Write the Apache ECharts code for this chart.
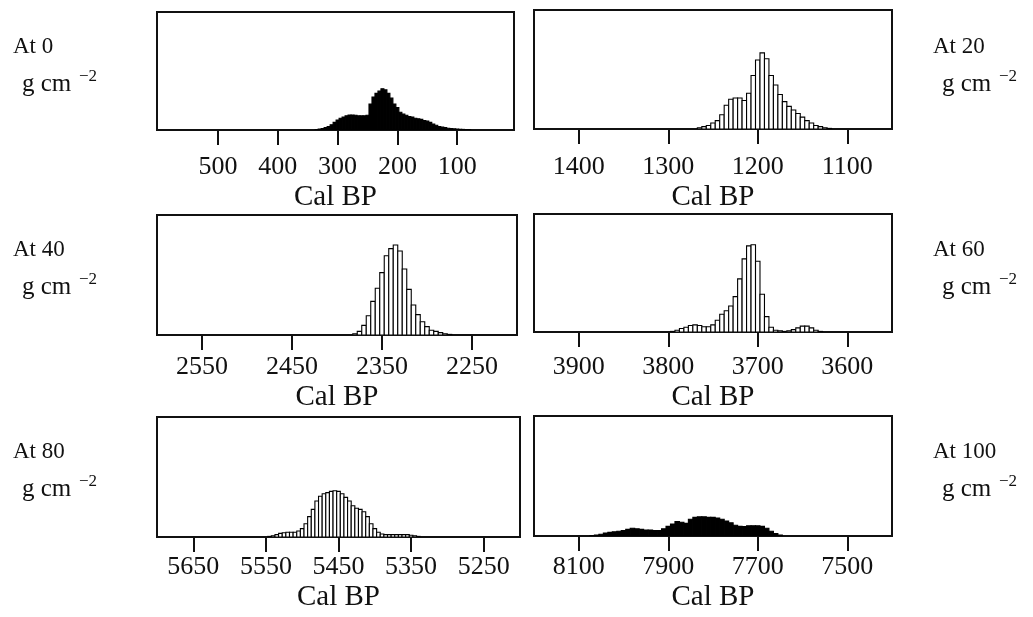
<!DOCTYPE html>
<html><head><meta charset="utf-8">
<script src="https://cdn.jsdelivr.net/npm/echarts@6/dist/echarts.min.js"></script>
<style>html,body{margin:0;padding:0;background:#fff}#c{width:1033px;height:617px}</style>
</head><body><div id="c"></div>
<script>
// ---- data ----
const depthLabels = ['At 0', 'At 20', 'At 40', 'At 60', 'At 80', 'At 100'];
const unitLabel = 'g cm';
const unitExp = '\u22122';
const axisTitle = 'Cal BP';

const ticks0 = [500, 400, 300, 200, 100];
const ticks20 = [1400, 1300, 1200, 1100];
const ticks40 = [2550, 2450, 2350, 2250];
const ticks60 = [3900, 3800, 3700, 3600];
const ticks80 = [5650, 5550, 5450, 5350, 5250];
const ticks100 = [8100, 7900, 7700, 7500];

const at0Years = [335,330,325,320,315,310,305,300,295,290,285,280,275,270,265,260,255,250,245,240,235,230,225,220,215,210,205,200,195,190,185,180,175,170,165,160,155,150,145,140,135,130,125,120,115,110,105,100,95,90,85,80];
const at0Prob  = [.004,.008,.012,.02,.03,.045,.065,.085,.10,.11,.12,.127,.127,.125,.12,.12,.12,.125,.22,.28,.31,.33,.35,.34,.31,.27,.22,.19,.15,.135,.125,.115,.11,.10,.095,.09,.08,.075,.065,.05,.04,.03,.025,.02,.015,.012,.01,.008,.006,.005,.004,.003];

const at20Years = [1265,1260,1255,1250,1245,1240,1235,1230,1225,1220,1215,1210,1205,1200,1195,1190,1185,1180,1175,1170,1165,1160,1155,1150,1145,1140,1135,1130,1125,1120];
const at20Prob  = [.01,.02,.03,.05,.07,.12,.20,.25,.26,.26,.24,.30,.45,.58,.64,.59,.45,.37,.29,.23,.19,.16,.13,.10,.07,.05,.03,.02,.01,.005];

const at40Years = [2380,2375,2370,2365,2360,2355,2350,2345,2340,2335,2330,2325,2320,2315,2310,2305,2300,2295,2290,2285,2280,2275];
const at40Prob  = [.01,.03,.08,.16,.28,.39,.52,.66,.72,.75,.70,.55,.38,.25,.17,.11,.07,.04,.03,.02,.01,.005];

const at60Years = [3795,3790,3785,3780,3775,3770,3765,3760,3755,3750,3745,3740,3735,3730,3725,3720,3715,3710,3705,3700,3695,3690,3685,3680,3675,3670,3665,3660,3655,3650,3645,3640,3635,3630];
const at60Prob  = [.005,.015,.03,.04,.055,.06,.055,.045,.045,.06,.10,.15,.18,.22,.30,.45,.62,.73,.74,.60,.32,.13,.04,.015,.01,.005,.01,.02,.035,.05,.05,.035,.015,.005];

const at80Years = [5545,5540,5535,5530,5525,5520,5515,5510,5505,5500,5495,5490,5485,5480,5475,5470,5465,5460,5455,5450,5445,5440,5435,5430,5425,5420,5415,5410,5405,5400,5395,5390,5385,5380,5375,5370,5365,5360,5355,5350,5345,5340];
const at80Prob  = [.005,.01,.02,.03,.035,.04,.04,.04,.05,.07,.11,.17,.23,.30,.34,.36,.37,.38,.385,.38,.36,.33,.30,.26,.24,.23,.21,.17,.11,.07,.04,.025,.02,.02,.02,.02,.02,.02,.02,.015,.01,.005];

const at100Years = [8070,8060,8050,8040,8030,8020,8010,8000,7990,7980,7970,7960,7950,7940,7930,7920,7910,7900,7890,7880,7870,7860,7850,7840,7830,7820,7810,7800,7790,7780,7770,7760,7750,7740,7730,7720,7710,7700,7690,7680,7670,7660,7650];
const at100Prob  = [.003,.008,.015,.025,.03,.035,.04,.045,.055,.065,.06,.055,.05,.05,.045,.045,.06,.08,.10,.12,.115,.105,.14,.155,.16,.16,.155,.155,.15,.14,.125,.11,.09,.08,.078,.085,.086,.085,.08,.065,.04,.02,.008];

// ---- layout / style ----
const FONT = 'Liberation Serif';
const INK = '#111';
const panels = [
  {years: at0Years, prob: at0Prob, bin: 5, ticks: ticks0, min: 5, max: 602, grid: {left: 157, top: 12, width: 357, height: 118}, margin: 24, gap: 53, fill: '#000'},
  {years: at20Years, prob: at20Prob, bin: 5, ticks: ticks20, min: 1050, max: 1450, grid: {left: 534, top: 10, width: 358, height: 119}, margin: 25, gap: 54, fill: '#fff'},
  {years: at40Years, prob: at40Prob, bin: 5, ticks: ticks40, min: 2200, max: 2600, grid: {left: 157, top: 215, width: 360, height: 120}, margin: 19, gap: 48, fill: '#fff'},
  {years: at60Years, prob: at60Prob, bin: 5, ticks: ticks60, min: 3550, max: 3950, grid: {left: 534, top: 214, width: 358, height: 118}, margin: 22, gap: 51, fill: '#fff'},
  {years: at80Years, prob: at80Prob, bin: 5, ticks: ticks80, min: 5200, max: 5700, grid: {left: 157, top: 417, width: 363, height: 120}, margin: 17, gap: 46, fill: '#fff'},
  {years: at100Years, prob: at100Prob, bin: 10, ticks: ticks100, min: 7400, max: 8200, grid: {left: 534, top: 416, width: 358, height: 120}, margin: 18, gap: 47, fill: '#000'}
];

function makeRender(bin, fill) {
  return function (params, api) {
    const c = api.value(0), h = api.value(1);
    const a = api.coord([c - bin / 2, h]);
    const b = api.coord([c + bin / 2, 0]);
    return {
      type: 'rect',
      shape: {x: Math.min(a[0], b[0]), y: Math.min(a[1], b[1]), width: Math.abs(a[0] - b[0]), height: Math.abs(a[1] - b[1])},
      style: {fill: fill, stroke: '#000', lineWidth: 1.1}
    };
  };
}

const grids = [], xAxes = [], yAxes = [], series = [];
panels.forEach((p, i) => {
  grids.push(Object.assign({show: true, borderColor: INK, borderWidth: 2, backgroundColor: 'transparent'}, p.grid));
  xAxes.push({
    gridIndex: i, type: 'value', inverse: true, min: p.min, max: p.max,
    axisLine: {show: false}, splitLine: {show: false},
    axisTick: {show: true, customValues: p.ticks, length: 15, lineStyle: {color: INK, width: 2}},
    axisLabel: {customValues: p.ticks, margin: p.margin, fontSize: 26, fontFamily: FONT, color: INK,
      formatter: v => String(v)},
    name: axisTitle, nameLocation: 'middle', nameGap: p.gap,
    nameTextStyle: {fontSize: 29, fontFamily: FONT, color: INK}
  });
  yAxes.push({gridIndex: i, type: 'value', min: 0, max: 1, show: false});
  series.push({
    type: 'custom', xAxisIndex: i, yAxisIndex: i, clip: true,
    renderItem: makeRender(p.bin, p.fill),
    encode: {x: 0, y: 1},
    data: p.years.map((y, k) => [y, p.prob[k]])
  });
});

// side labels
const rowY = [0, 203, 405];
const graphics = [];
depthLabels.forEach((lab, i) => {
  const row = Math.floor(i / 2), right = i % 2 === 1;
  const x0 = right ? 933 : 13;
  const dy = rowY[row];
  const ts = {fill: INK, fontFamily: FONT, textVerticalAlign: 'middle', textAlign: 'left'};
  graphics.push({type: 'text', left: x0, top: 35 + dy, style: Object.assign({}, ts, {text: lab, fontSize: 23})});
  graphics.push({type: 'text', left: x0 + 9, top: 72 + dy, style: Object.assign({}, ts, {text: unitLabel, fontSize: 25})});
  graphics.push({type: 'text', left: x0 + 66, top: 68 + dy, style: Object.assign({}, ts, {text: unitExp, fontSize: 17})});
});

const chart = echarts.init(document.getElementById('c'), null, {renderer: 'canvas'});
chart.setOption({
  animation: false,
  backgroundColor: '#fff',
  grid: grids, xAxis: xAxes, yAxis: yAxes, series: series,
  graphic: graphics
});
</script>
</body></html>
